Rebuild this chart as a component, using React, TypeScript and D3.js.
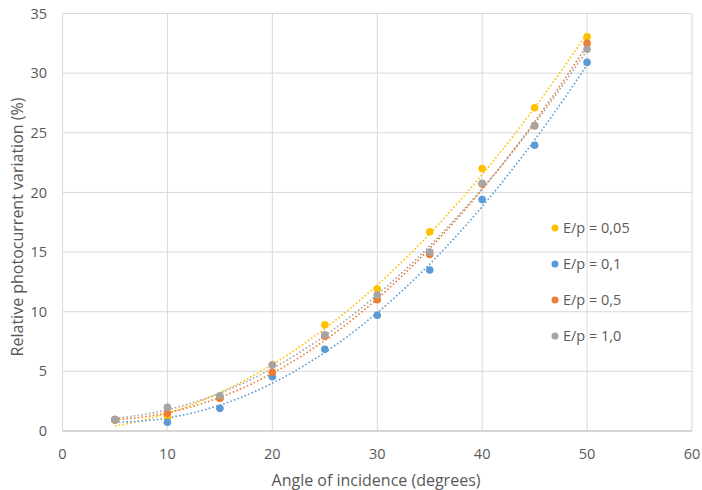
import React from "react";
import * as d3 from "d3";

const angles = [5, 10, 15, 20, 25, 30, 35, 40, 45, 50];
const seriesNames = ["E/p = 0,05", "E/p = 0,1", "E/p = 0,5", "E/p = 1,0"];
const ep005 = [0.9, 1.15, 2.75, 5.55, 8.9, 11.9, 16.7, 22.0, 27.1, 33.05];
const ep01 = [0.95, 0.73, 1.9, 4.55, 6.85, 9.7, 13.5, 19.4, 23.95, 30.9];
const ep05 = [0.95, 1.48, 2.75, 4.92, 7.95, 11.0, 14.8, 20.7, 25.6, 32.5];
const ep10 = [0.95, 1.98, 2.95, 5.53, 8.07, 11.4, 15.0, 20.76, 25.6, 32.0];
const colors = ["#FFC000", "#5B9BD5", "#ED7D31", "#A5A5A5"];
const xTicks = [0, 10, 20, 30, 40, 50, 60];
const yTicks = [0, 5, 10, 15, 20, 25, 30, 35];

const W = 702, H = 490;
const M = { left: 62.5, top: 13.5, right: 692, bottom: 431 };
const FONT = "'Open Sans', 'Noto Sans', sans-serif";
const TXT = "#595959";

function quadFit(xs: number[], ys: number[]) {
  let s0 = 0, s1 = 0, s2 = 0, s3 = 0, s4 = 0, t0 = 0, t1 = 0, t2 = 0;
  xs.forEach((x, i) => {
    const y = ys[i];
    s0 += 1; s1 += x; s2 += x * x; s3 += x ** 3; s4 += x ** 4;
    t0 += y; t1 += x * y; t2 += x * x * y;
  });
  const A = [[s0, s1, s2, t0], [s1, s2, s3, t1], [s2, s3, s4, t2]];
  for (let i = 0; i < 3; i++) {
    for (let j = i + 1; j < 3; j++) {
      const f = A[j][i] / A[i][i];
      for (let k = i; k < 4; k++) A[j][k] -= f * A[i][k];
    }
  }
  const r = [0, 0, 0];
  for (let i = 2; i >= 0; i--) {
    let s = A[i][3];
    for (let k = i + 1; k < 3; k++) s -= A[i][k] * r[k];
    r[i] = s / A[i][i];
  }
  return (x: number) => r[0] + r[1] * x + r[2] * x * x;
}

export default function App() {
  const x = d3.scaleLinear().domain([0, 60]).range([M.left, M.right]);
  const y = d3.scaleLinear().domain([0, 35]).range([M.bottom, M.top]);
  const data = [ep005, ep01, ep05, ep10];
  const line = d3.line<[number, number]>().x(d => x(d[0])).y(d => y(d[1]));
  const fine = d3.range(5, 50.01, 0.5);
  const legendY = [228, 264, 300, 336];

  return (
    <svg width={W} height={H} style={{ position: "absolute", left: 0, top: 0, background: "#fff" }}>
      <defs>
        <clipPath id="plot">
          <rect x={M.left} y={M.top} width={M.right - M.left} height={M.bottom - M.top} />
        </clipPath>
      </defs>
      <rect x={0} y={0} width={W} height={H} fill="#fff" />
      {yTicks.map(t => (
        <line key={"gy" + t} x1={M.left} x2={M.right} y1={y(t)} y2={y(t)} stroke="#D9D9D9" strokeWidth={1} />
      ))}
      {xTicks.map(t => (
        <line key={"gx" + t} x1={x(t)} x2={x(t)} y1={M.top} y2={M.bottom} stroke="#D9D9D9" strokeWidth={1} />
      ))}
      <line x1={M.left} x2={M.right} y1={M.bottom} y2={M.bottom} stroke="#BFBFBF" strokeWidth={1} />
      {yTicks.map(t => (
        <text key={"ty" + t} x={47} y={y(t)} dy="0.35em" textAnchor="end" fontSize={14.5} fill={TXT} fontFamily={FONT}>{t}</text>
      ))}
      {xTicks.map(t => (
        <text key={"tx" + t} x={x(t)} y={454} dy="0.35em" textAnchor="middle" fontSize={14.5} fill={TXT} fontFamily={FONT}>{t}</text>
      ))}
      <text x={376} y={480} dy="0.35em" textAnchor="middle" fontSize={16} fill={TXT} fontFamily={FONT}>Angle of incidence (degrees)</text>
      <text transform={`translate(17,227) rotate(-90)`} dy="0.35em" textAnchor="middle" fontSize={16} fill={TXT} fontFamily={FONT}>Relative photocurrent variation (%)</text>
      <g clipPath="url(#plot)">
        {data.map((ys, i) => {
          const f = quadFit(angles, ys);
          const pts = fine.map(v => [v, f(v)] as [number, number]);
          return (
            <path key={"t" + i} d={line(pts) || ""} fill="none" stroke={colors[i]} strokeWidth={1.6} strokeDasharray="1.6 2.2" />
          );
        })}
      </g>
      {data.map((ys, i) => (
        <g key={"p" + i}>
          {ys.map((v, j) => (
            <circle key={j} cx={x(angles[j])} cy={y(v)} r={3.8} fill={colors[i]} />
          ))}
        </g>
      ))}
      {seriesNames.map((n, i) => (
        <g key={"l" + i}>
          <circle cx={555} cy={legendY[i]} r={3.5} fill={colors[i]} />
          <text x={563} y={legendY[i]} dy="0.35em" fontSize={14.5} fill={TXT} fontFamily={FONT}>{n}</text>
        </g>
      ))}
    </svg>
  );
}
